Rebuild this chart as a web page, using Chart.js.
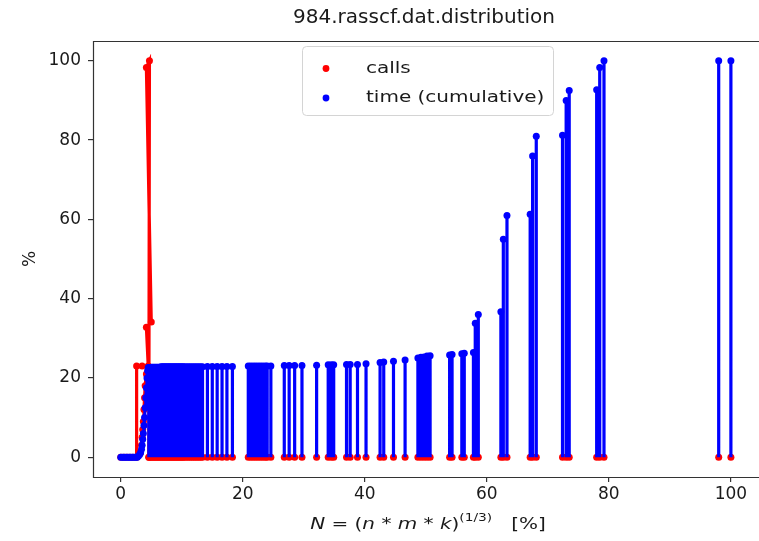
<!DOCTYPE html>
<html><head><meta charset="utf-8">
<script src="https://cdn.jsdelivr.net/npm/chart.js@4.4.0/dist/chart.umd.min.js"></script>
<style>html,body{margin:0;padding:0;background:#fff}#wrap{width:759px;height:541px;position:relative}</style>
</head><body><div id="wrap"><canvas id="c" width="759" height="541"></canvas></div>
<script>
const chartTitle = "984.rasscf.dat.distribution";
const seriesNames = ["calls", "time (cumulative)"];
const yAxisTitle = "%";
const xTickValues = [0, 20, 40, 60, 80, 100];
const yTickValues = [0, 20, 40, 60, 80, 100];

// calls: main path
const callsX = [0.0, 0.5, 1.0, 1.5, 2.0, 2.6, 2.6, 3.5, 4.5, 4.2, 5.0, 4.2, 4.7, 4.6];
const callsY = [0, 0, 0, 0, 0, 0, 23, 23, 23, 32.8, 34.1, 98.3, 100, 0];
// calls: inner rise
const callsRiseX = [3.2, 3.4, 3.5, 3.6, 3.7, 3.8, 3.9, 4.0, 4.2];
const callsRiseY = [1, 3, 5, 7, 9, 12, 15, 18, 21];

// time (cumulative): low curve
const timeCurveX = [0.0, 0.25, 0.5, 0.75, 1.0, 1.25, 1.5, 1.75, 2.0, 2.25, 2.5, 2.7, 2.9, 3.1, 3.25, 3.4, 3.5, 3.6, 3.7, 3.8, 3.9, 4.0, 4.1, 4.2, 4.3, 4.4, 4.5];
const timeCurveY = [0, 0, 0, 0, 0, 0, 0, 0, 0, 0, 0, 0, 0.3, 0.7, 1.2, 2, 3, 4.5, 6, 8, 10, 12.5, 15, 17.5, 20, 21.8, 22.6];

// time (cumulative): stems
const timeStemX = [
  4.6, 4.8, 5.0, 5.2, 5.4, 5.6, 5.8, 6.0, 6.2, 6.4, 6.6, 6.8, 7.0, 7.2, 7.4, 7.6, 7.8, 8.0, 8.2, 8.4,
  8.6, 8.8, 9.0, 9.2, 9.4, 9.6, 9.8, 10.0, 10.2, 10.4, 10.7, 11.0, 11.3, 11.6, 11.9, 12.2, 12.5, 12.8, 13.1, 13.4,
  14.2, 15.0, 15.8, 16.6, 17.4, 18.3,
  20.9, 21.3, 21.7, 22.1, 22.5, 22.9, 23.3, 23.7, 24.0, 24.6,
  26.8, 27.6, 28.5, 29.7,
  32.1,
  34.0, 34.5, 34.9,
  37.0, 37.6, 38.8,
  40.2,
  42.5, 43.1,
  44.7,
  46.6,
  48.7, 49.2, 49.7, 50.2, 50.7,
  53.9, 54.3, 55.9, 56.3,
  57.8, 58.1, 58.6,
  62.3, 62.7, 63.3,
  67.1, 67.5, 68.1,
  72.4, 73.0, 73.5,
  78.0, 78.5, 79.2,
  98.0, 100.0
];
const timeStemY = [
  22.6, 22.6, 22.7, 22.7, 22.7, 22.7, 22.7, 22.7, 22.7, 22.7, 22.8, 22.8, 22.8, 22.8, 22.8, 22.8, 22.8, 22.8, 22.8, 22.8,
  22.8, 22.8, 22.8, 22.8, 22.8, 22.8, 22.8, 22.8, 22.8, 22.8, 22.8, 22.8, 22.8, 22.8, 22.8, 22.8, 22.8, 22.8, 22.8, 22.8,
  22.9, 22.9, 22.9, 22.9, 22.9, 22.9,
  23.0, 23.0, 23.0, 23.0, 23.0, 23.0, 23.0, 23.0, 23.0, 23.0,
  23.1, 23.1, 23.1, 23.1,
  23.2,
  23.3, 23.3, 23.3,
  23.4, 23.4, 23.4,
  23.6,
  23.9, 24.0,
  24.2,
  24.5,
  25.0, 25.2, 25.3, 25.5, 25.6,
  25.8, 25.9, 26.1, 26.2,
  26.4, 33.8, 36.0,
  36.7, 55.0, 61.0,
  61.3, 76.0, 81.0,
  81.2, 90.0, 92.5,
  92.7, 98.3, 100,
  100, 100
];
// calls value at each stem position (read as 0)
const callsAtStemsY = [
  0,0,0,0,0,0,0,0,0,0,0,0,0,0,0,0,0,0,0,0,
  0,0,0,0,0,0,0,0,0,0,0,0,0,0,0,0,0,0,0,0,
  0,0,0,0,0,0,
  0,0,0,0,0,0,0,0,0,0,
  0,0,0,0,
  0,
  0,0,0,
  0,0,0,
  0,
  0,0,
  0,
  0,
  0,0,0,0,0,
  0,0,0,0,
  0,0,0,
  0,0,0,
  0,0,0,
  0,0,0,
  0,0,0,
  0,0
];

const RED = '#ff0000';
const BLUE = '#0000ff';

function path(xs, ys) { return xs.map((x, i) => ({ x: x, y: ys[i] })); }
function gapAfter(pts) { const l = pts[pts.length - 1]; pts.push({ x: l.x, y: null }); return pts; }

const callsData = [];
callsData.push(...gapAfter(path(callsX, callsY)));
callsData.push(...gapAfter(path(callsRiseX, callsRiseY)));
timeStemX.forEach((x, i) => { callsData.push({ x: x, y: callsAtStemsY[i] }); callsData.push({ x: x, y: null }); });

const timeData = [];
timeData.push(...gapAfter(path(timeCurveX, timeCurveY)));
timeStemX.forEach((x, i) => {
  timeData.push({ x: x, y: 0, hide: true });
  timeData.push({ x: x, y: timeStemY[i] });
  timeData.push({ x: x, y: null });
});

const frameColor = '#333';
const FONT = "'DejaVu Sans', sans-serif";

const framePlugin = {
  id: 'frame',
  afterDatasetsDraw(chart) {
    const { ctx, chartArea: a } = chart;
    ctx.save();
    ctx.strokeStyle = frameColor;
    ctx.lineWidth = 1.2;
    ctx.beginPath();
    ctx.moveTo(chart.width, a.top + 0.5);
    ctx.lineTo(a.left + 0.5, a.top + 0.5);
    ctx.lineTo(a.left + 0.5, a.bottom + 0.5);
    ctx.lineTo(chart.width, a.bottom + 0.5);
    ctx.stroke();
    ctx.restore();
  }
};

const legendPlugin = {
  id: 'boxLegend',
  afterDraw(chart) {
    const ctx = chart.ctx;
    const x0 = 302.5, y0 = 46.5, w = 251, h = 69, r = 4;
    ctx.save();
    ctx.beginPath();
    ctx.moveTo(x0 + r, y0);
    ctx.arcTo(x0 + w, y0, x0 + w, y0 + h, r);
    ctx.arcTo(x0 + w, y0 + h, x0, y0 + h, r);
    ctx.arcTo(x0, y0 + h, x0, y0, r);
    ctx.arcTo(x0, y0, x0 + w, y0, r);
    ctx.closePath();
    ctx.fillStyle = 'rgba(255,255,255,0.8)';
    ctx.fill();
    ctx.strokeStyle = '#d4d4d4';
    ctx.lineWidth = 1;
    ctx.stroke();
    const rows = [68.5, 98];
    chart.data.datasets.forEach((ds, i) => {
      const y = rows[i];
      ctx.fillStyle = ds.borderColor;
      ctx.beginPath();
      ctx.arc(326, y, 3.4, 0, Math.PI * 2);
      ctx.fill();
      ctx.save();
      ctx.translate(366, y);
      ctx.scale(1.25, 1);
      ctx.fillStyle = '#1a1a1a';
      ctx.font = '16px ' + FONT;
      ctx.textBaseline = 'middle';
      ctx.textAlign = 'left';
      ctx.fillText(ds.label, 0, 0);
      ctx.restore();
    });
    ctx.restore();
  }
};

const xLabelPlugin = {
  id: 'xMathLabel',
  afterDraw(chart) {
    const ctx = chart.ctx;
    const a = chart.chartArea;
    const sx = 1.25;
    const parts = [
      { t: 'N', it: true }, { t: ' = (' }, { t: 'n', it: true }, { t: ' * ' }, { t: 'm', it: true },
      { t: ' * ' }, { t: 'k', it: true }, { t: ')' }, { t: '(1/3)', sup: true }, { t: '   [%]' }
    ];
    ctx.save();
    const fontOf = p => (p.it ? 'italic ' : '') + (p.sup ? '11px ' : '16px ') + FONT;
    let total = 0;
    parts.forEach(p => { ctx.font = fontOf(p); p.w = ctx.measureText(p.t).width; total += p.w; });
    const cx = (a.left + a.right) / 2 + 4;
    const baseY = 529;
    ctx.translate(cx - total * sx / 2, baseY);
    ctx.scale(sx, 1);
    ctx.fillStyle = '#1a1a1a';
    ctx.textBaseline = 'alphabetic';
    let x = 0;
    parts.forEach(p => {
      ctx.font = fontOf(p);
      ctx.fillText(p.t, x, p.sup ? -8 : 0);
      x += p.w;
    });
    ctx.restore();
  }
};

new Chart(document.getElementById('c'), {
  type: 'line',
  data: {
    datasets: [
      {
        label: seriesNames[0], data: callsData, order: 1,
        borderColor: RED, backgroundColor: RED, borderWidth: 3.2,
        pointRadius: 3.5, pointBackgroundColor: RED, pointBorderWidth: 0, pointHoverRadius: 3.5,
        tension: 0, spanGaps: false
      },
      {
        label: seriesNames[1], data: timeData, order: 0,
        borderColor: BLUE, backgroundColor: BLUE, borderWidth: 3.2,
        pointRadius: c => (c.raw && c.raw.hide) ? 0 : 3.5,
        pointBackgroundColor: BLUE, pointBorderWidth: 0, pointHoverRadius: 3.5,
        tension: 0, spanGaps: false
      }
    ]
  },
  options: {
    responsive: false,
    animation: false,
    events: [],
    layout: { padding: { left: 0, right: 4, top: 0, bottom: 0 } },
    plugins: {
      legend: { display: false },
      tooltip: { enabled: false },
      title: {
        display: true, text: chartTitle, color: '#1a1a1a', fullSize: false,
        font: { family: FONT, size: 20, weight: 'normal' },
        padding: { top: 6, bottom: 11 }
      }
    },
    scales: {
      x: {
        type: 'linear', min: -4.55, max: 103.95,
        afterFit: s => { s.height = 64; },
        afterBuildTicks: s => { s.ticks = xTickValues.map(v => ({ value: v })); },
        ticks: { color: '#1a1a1a', font: { family: FONT, size: 17 }, padding: 2, maxRotation: 0, autoSkip: false },
        grid: { display: true, drawOnChartArea: false, drawTicks: true, tickLength: 5, color: frameColor, lineWidth: 1.2 },
        border: { display: false }
      },
      y: {
        type: 'linear', min: -5, max: 105,
        afterFit: s => { s.width = 93; },
        afterBuildTicks: s => { s.ticks = yTickValues.map(v => ({ value: v })); },
        ticks: { color: '#1a1a1a', font: { family: FONT, size: 17 }, padding: 7, autoSkip: false },
        grid: { display: true, drawOnChartArea: false, drawTicks: true, tickLength: 5, color: frameColor, lineWidth: 1.2 },
        border: { display: false },
        title: { display: true, text: yAxisTitle, color: '#1a1a1a', font: { family: FONT, size: 17 }, padding: { top: 20, bottom: 0 } }
      }
    }
  },
  plugins: [framePlugin, legendPlugin, xLabelPlugin]
});
</script>
</body></html>
